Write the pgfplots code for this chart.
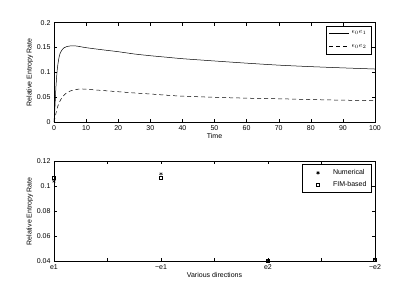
\documentclass[border=0pt]{standalone}
\usepackage{pgfplots}
\pgfplotsset{compat=1.18}
\usepackage{fontspec}
\setmainfont{Liberation Sans}
\begin{document}
\begin{tikzpicture}
\useasboundingbox (0,0) rectangle (415pt,-294pt);
\pgfplotsset{
  every axis/.append style={
    scale only axis, width=321pt, anchor=south west,
    font=\fontsize{7}{8}\selectfont,
    /pgf/number format/assume math mode=true,
    tick align=inside, tick pos=both,
    major tick length=3pt,
    scaled y ticks=false,
    yticklabel style={/pgf/number format/fixed, /pgf/number format/precision=2},
    legend cell align=left,
    legend style={font=\fontsize{7}{8}\selectfont, draw=black, line width=0.6pt, inner xsep=3pt, inner ysep=3pt},
    axis line style={line width=0.6pt},
    every tick/.style={black, line width=0.4pt},
  },
}
\begin{axis}[
  at={(54pt,-122pt)}, height=99.3pt,
  xmin=0, xmax=100, ymin=0, ymax=0.2,
  xtick={0,10,...,100}, ytick={0,0.05,0.1,0.15,0.2},
  xlabel={Time}, ylabel={Relative Entropy Rate},
  xlabel style={yshift=4pt}, ylabel style={yshift=-3pt},
  legend style={at={(0.99,0.97)}, anchor=north east, row sep=5pt},
  legend image code/.code={\draw[#1, line width=0.5pt] (0pt,0pt) -- (20pt,0pt);},
]
\addplot[black, line width=0.5pt, smooth, tension=0.4] coordinates {
(0,0) (0.3,0.03) (0.6,0.07) (1,0.105) (1.5,0.128) (2,0.14) (3,0.149) (4,0.152) (5.5,0.1535) (7,0.153) (10,0.1497) (15,0.1455) (20,0.1416) (25,0.137) (30,0.1335) (35,0.1305) (40,0.1275) (50,0.1229) (60,0.1185) (70,0.1145) (80,0.1115) (90,0.109) (100,0.1067)
};
\addlegendentry{$\epsilon_0 e_1$}
\addplot[black, line width=0.5pt, dashed, dash pattern=on 4pt off 3pt, smooth, tension=0.4] coordinates {
(0,0) (0.3,0.008) (0.7,0.02) (1.2,0.032) (2,0.044) (3,0.053) (4,0.059) (5.5,0.0635) (8,0.0665) (10,0.066) (15,0.0635) (20,0.061) (25,0.0585) (30,0.0564) (35,0.054) (40,0.052) (50,0.0497) (60,0.048) (70,0.0468) (80,0.0452) (90,0.044) (100,0.043)
};
\addlegendentry{$\epsilon_0 e_2$}
\end{axis}
\begin{axis}[
  at={(54pt,-261.3pt)}, height=100pt,
  xmin=1, xmax=4, ymin=0.04, ymax=0.12,
  xtick={1,1.5,...,4}, xticklabels={e1,,−e1,,e2,,−e2},
  ytick={0.04,0.06,0.08,0.1,0.12},
  xlabel={Various directions}, ylabel={Relative Entropy Rate},
  xlabel style={yshift=4pt}, ylabel style={yshift=-3pt},
  clip=false,
  legend style={at={(0.99,0.97)}, anchor=north east, row sep=1pt},
]
\addlegendimage{draw=none, legend image code/.code={\path[draw=none] (0pt,0pt) -- (26pt,0pt); \path[draw=none] plot[mark=asterisk, mark size=1.8pt, mark options={draw=black, solid}] coordinates {(13pt,0pt)};}}
\addlegendentry{Numerical}
\addlegendimage{draw=none, legend image code/.code={\path[draw=none] (0pt,0pt) -- (26pt,0pt); \path[draw=none] plot[mark=square, mark size=1.6pt, mark options={draw=black, solid}] coordinates {(13pt,0pt)};}}
\addlegendentry{FIM-based}
\addplot[only marks, black, mark=asterisk, mark size=1.8pt, forget plot] coordinates {
(1,0.104) (2,0.110) (3,0.0405) (4,0.0415)
};
\addplot[only marks, black, mark=square, mark size=1.6pt, forget plot] coordinates {
(1,0.107) (2,0.107) (3,0.0405) (4,0.0415)
};
\end{axis}
\end{tikzpicture}
\end{document}
